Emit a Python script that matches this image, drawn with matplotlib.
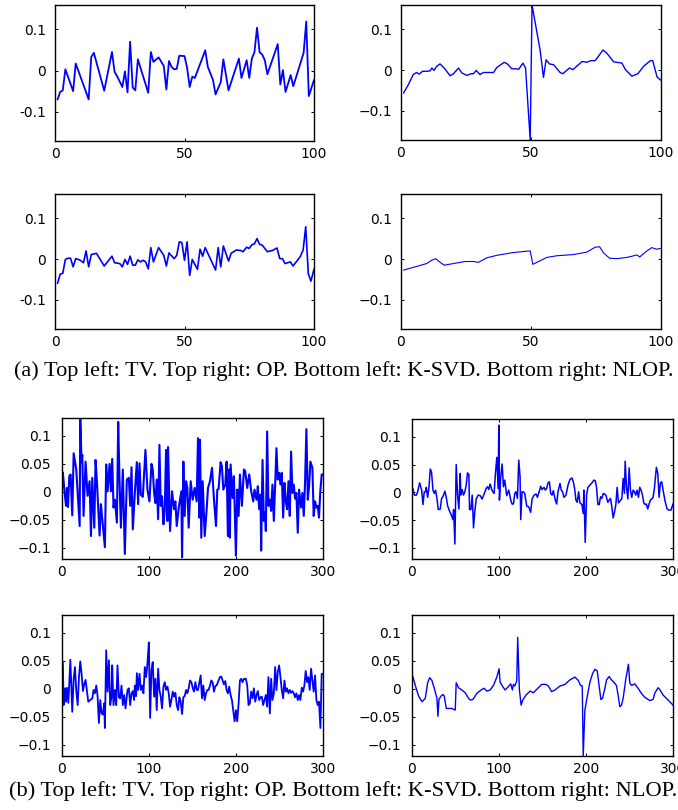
import matplotlib
matplotlib.use("Agg")
import matplotlib.pyplot as plt

# ---- (a) 100-sample signals: TV, OP, K-SVD, NLOP ----
tv_a_x = [1, 2, 3, 4, 7, 8, 13, 14, 15, 19, 22, 23, 24, 26, 27, 28, 29, 30, 31, 32,
          36, 37, 38, 40, 42, 43, 44, 45, 46, 47, 48, 50, 51, 52, 53, 54, 58, 59, 61, 62,
          64, 65, 67, 71, 72, 74, 75, 76, 77, 78, 79, 80, 81, 82, 86, 87, 88, 89, 91, 92,
          96, 97, 98, 100]
tv_a_y = [-0.070, -0.052, -0.048, 0.003, -0.050, 0.017, -0.070, 0.033, 0.043, -0.049,
          0.045, -0.003, -0.014, -0.040, -0.002, -0.053, 0.070, -0.041, -0.048, 0.027,
          -0.054, 0.045, 0.021, 0.032, 0.011, -0.046, 0.023, 0.009, 0.003, 0.004,
          0.036, 0.035, 0.007, -0.040, -0.015, -0.018, 0.049, 0.009, -0.023, -0.058,
          -0.028, 0.027, -0.048, 0.029, -0.018, 0.025, -0.018, 0.029, 0.044, 0.104,
          0.044, 0.039, 0.025, -0.009, 0.064, -0.034, 0.001, -0.052, -0.011, -0.038,
          0.043, 0.119, -0.062, -0.023]

op_a_x = [1, 2.8, 4.7, 6, 7, 8.3, 10.1, 11.2, 11.9, 12.7, 13.7, 15, 16.6, 18.9, 20.2,
          22.1, 23.4, 25.3, 27, 27.9, 28.9, 30.4, 31.7, 35.6, 36.8, 39.7, 40.9, 42.6,
          44.3, 45.3, 46.9, 47.9, 49.7, 50.4, 53.5, 54.8, 55.8, 57.1, 58.7, 61.2, 62.3,
          63.5, 64.8, 66.1, 67.9, 69.7, 71.5, 73, 74.7, 77.7, 79.2, 81.8, 85, 86.3, 88.8,
          91.1, 93.3, 95.9, 96.8, 98.5, 100]
op_a_y = [-0.056, -0.036, -0.011, -0.006, -0.010, -0.003, -0.003, -0.002, 0.005, -0.001,
          0.009, 0.015, 0.005, -0.014, -0.009, 0.005, -0.007, -0.013, -0.009, -0.009,
          -0.001, -0.011, -0.006, -0.006, 0.006, 0.019, 0.015, 0.003, 0.003, 0.002,
          0.017, 0.005, -0.171, 0.159, 0.049, -0.018, 0.025, 0.015, 0.013, -0.006,
          -0.009, -0.002, 0.005, 0.001, 0.011, 0.021, 0.019, 0.023, 0.023, 0.049,
          0.041, 0.020, 0.017, 0.001, -0.015, -0.009, 0.009, 0.023, 0.023, -0.017,
          -0.025]

ksvd_a_x = [1, 2, 3, 4, 5, 6, 7, 8, 9, 10, 11, 12, 13, 14, 16, 19, 22, 23, 25, 26,
            27, 28, 29, 30, 31, 32, 33, 34, 35, 36, 37, 38, 40, 42, 43, 44, 46, 47, 48, 49,
            50, 51, 52, 53, 55, 56, 57, 58, 62, 63, 64, 65, 67, 68, 70, 71.6, 72.6, 74, 75,
            76, 77, 78, 79, 80, 82, 84, 85.7, 86.8, 87.8, 88.8, 90.9, 91.9, 94.7, 95.8,
            96.8, 97.8, 98.8, 100]
ksvd_a_y = [-0.059, -0.037, -0.035, -0.001, 0.002, 0.002, -0.019, 0.001, -0.001, -0.004,
            -0.009, 0.020, -0.019, 0.011, 0.014, -0.017, 0.007, -0.009, -0.011, -0.019,
            -0.001, -0.013, 0.007, -0.015, -0.015, -0.002, -0.007, -0.003, -0.007, -0.024,
            0.028, -0.007, 0.028, 0.009, -0.017, 0.015, 0.001, 0.009, 0.042, 0.040,
            -0.003, 0.042, -0.040, -0.001, -0.025, 0.024, 0.007, 0.028, -0.027, 0.028,
            -0.019, 0.032, -0.005, 0.014, 0.022, 0.021, 0.018, 0.029, 0.026, 0.035,
            0.037, 0.050, 0.036, 0.034, 0.018, 0.021, 0.027, 0.001, 0.001, -0.011,
            -0.007, -0.017, 0.006, 0.022, 0.079, -0.036, -0.054, -0.025]

nlop_a_x = [1, 9.9, 11.8, 13.4, 14.6, 16.6, 20.2, 24.6, 27.9, 29.8, 33, 36.8, 43.3, 49.7,
            50.7, 56.1, 59.9, 66.4, 71.5, 74.7, 76.4, 77.9, 80.2, 83.1, 86.9, 90.8, 91.8,
            94.6, 96.5, 98.2, 100]
nlop_a_y = [-0.027, -0.011, -0.003, 0.001, -0.006, -0.015, -0.011, -0.006, -0.006, -0.008,
            0.003, 0.009, 0.016, 0.020, -0.013, 0.004, 0.008, 0.011, 0.017, 0.029,
            0.030, 0.015, 0.002, 0.001, 0.004, 0.010, 0.005, 0.020, 0.028, 0.024, 0.026]

# ---- (b) 300-sample signals: TV, OP, K-SVD, NLOP ----
tv_b_x = [1, 2.7, 4.6, 5.7, 6.9, 8.4, 9.9, 11.8, 13.4, 16.4, 20.3, 21, 22.5, 23.3, 24.8,
          27.1, 29.4, 31.7, 33.3, 34.8, 37.1, 38.6, 40.1, 43.2, 44.7, 49.3, 50.8, 52.4,
          54.7, 56.2, 57.7, 59.2, 60.8, 63.1, 64.6, 66.1, 67.7, 69.9, 72.2, 74.5, 76.8,
          78.4, 79.9, 81.4, 83.7, 86, 87.5, 89.1, 90.6, 92.9, 95.9, 98.2, 100.5, 102.8,
          104.3, 105.9, 107.4, 108.9, 110.5, 112, 113.5, 115, 116.6, 118.1, 119.6, 121.2,
          121.9, 124.2, 126.5, 128.8, 130.3, 131.9, 134.2, 137.2, 138, 139.5, 141, 142.6,
          144.1, 145.6, 147.9, 150.2, 152.5, 154.8, 156.3, 157.9, 158.6, 160.1, 161.7,
          164, 166.3, 167.8, 170.1, 172.4, 174.7, 177, 178.5, 180, 182.3, 183.8, 185.4,
          187.7, 189.2, 190.7, 192.2, 193, 193.8, 196.1, 197.6, 199.9, 201.4, 203, 204.5,
          206.8, 209.1, 210.6, 212.9, 215.2, 217.5, 219.8, 221.3, 223.6, 225.1, 226.6,
          228.2, 228.9, 230.5, 232, 233.5, 234.3, 235.8, 237.3, 238.9, 240.4, 241.9,
          243.5, 245, 246.5, 248, 249.6, 251.1, 252.6, 254.2, 255.7, 257.2, 258.7, 260.3,
          261.8, 263.3, 264.9, 266.4, 267.9, 269.4, 271, 272.5, 274.8, 276.3, 277.9,
          279.4, 280.9, 282.5, 284, 285.5, 287.8, 289.3, 290.9, 292.4, 293.9, 295.4,
          296.9, 298.5, 300]
tv_b_y = [0.034, 0.004, -0.025, 0.007, -0.027, 0.028, 0.031, -0.042, 0.069, 0.040,
          -0.061, 0.130, 0.053, 0.066, -0.043, 0.054, -0.007, 0.019, -0.079, 0.025,
          -0.064, 0.057, 0.019, -0.078, -0.022, -0.099, 0.049, 0.001, 0.050, 0.001,
          0.059, -0.028, -0.014, -0.055, 0.125, 0.022, -0.064, 0.040, -0.111, 0.022,
          0.025, -0.025, 0.044, -0.067, -0.002, 0.053, -0.022, 0.051, -0.005, -0.009,
          0.075, 0.004, -0.017, 0.050, 0.040, -0.002, -0.020, 0.022, -0.049, 0.084,
          -0.025, -0.008, -0.058, -0.034, 0.075, -0.052, 0.080, -0.070, 0.001, -0.031,
          -0.017, -0.061, -0.028, 0.001, -0.117, 0.054, -0.043, 0.019, 0.007, -0.064,
          0.019, -0.014, 0.007, -0.017, 0.096, -0.046, 0.093, -0.082, 0.019, -0.079,
          -0.031, 0.007, 0.019, 0.043, -0.014, -0.061, 0.004, 0.005, 0.053, 0.046,
          0.004, 0.013, 0.054, -0.079, 0.040, -0.082, 0.049, -0.011, 0.028, -0.114,
          0.004, -0.043, 0.031, -0.025, 0.040, 0.037, 0.007, 0.031, 0.001, -0.017,
          0.004, -0.014, 0.010, -0.031, -0.005, -0.105, 0.057, -0.052, -0.037, -0.070,
          0.108, -0.025, -0.014, -0.034, 0.013, -0.052, 0.011, 0.078, 0.022, 0.034,
          0.013, 0.034, -0.046, 0.016, -0.017, -0.031, 0.019, -0.043, 0.072, -0.002,
          0.013, -0.012, -0.002, -0.073, 0.004, -0.028, -0.002, -0.043, 0.019, 0.112,
          -0.014, 0.010, 0.054, 0.043, -0.043, -0.017, -0.028, -0.025, -0.046, 0.001,
          0.031, 0.031]

op_b_x = [1, 2.7, 5, 6.5, 8.8, 11.1, 12.6, 14.1, 15.7, 16.4, 18, 19.5, 21, 22.5, 24.1,
          25.6, 27.1, 28.7, 30.2, 32.5, 34, 35.5, 37.8, 39.4, 40.9, 43.2, 45.5, 47, 47.8,
          49.3, 50.8, 52.4, 53.9, 55.4, 56.2, 57.7, 59.2, 60.8, 62.3, 63.8, 65.4, 66.1,
          67.7, 69.2, 70.7, 72.2, 73.8, 76.1, 78.4, 80.6, 82.9, 85.2, 86.8, 88.3, 89.8,
          92.1, 94.4, 95.9, 97.5, 99, 99.8, 100.5, 102, 103.6, 105.1, 106.6, 108.9, 111.2,
          113.5, 115, 116.6, 118.1, 119.6, 121.2, 122.7, 124.2, 125, 126.5, 128, 129.6,
          131.9, 134.2, 136.4, 138, 140.3, 142.6, 144.1, 145.6, 147.9, 149.4, 151.7,
          153.3, 154.8, 156.3, 157.9, 159.4, 160.9, 162.4, 164.7, 166.3, 167.8, 170.1,
          171.6, 173.1, 174.7, 177, 179.3, 181.5, 183.8, 185.4, 186.9, 188.4, 189.9,
          191.5, 193, 195.3, 196.8, 197.6, 199.1, 200.7, 202.2, 204.5, 206.8, 209.1,
          210.6, 212.1, 213.7, 215.2, 216.7, 218.2, 219.8, 221.3, 222.8, 225.1, 226.6,
          228.2, 229.7, 231.2, 232.7, 234.3, 235.8, 237.3, 238.9, 241.2, 242.7, 244.2,
          245, 246.5, 248.1, 249.6, 251.1, 252.6, 254.2, 255.7, 257.2, 258.7, 260.3,
          261.8, 263.3, 264.9, 266.4, 267.9, 269.4, 271, 272.5, 274, 275.6, 277.1, 278.6,
          280.9, 282.5, 284, 285.5, 287, 288.6, 290.9, 293.2, 295.5, 297.7, 300]
op_b_y = [0.007, -0.005, -0.005, 0.001, 0.017, 0.004, -0.022, 0.001, 0.001, 0.009,
          -0.009, 0.009, 0.042, 0.036, 0.004, -0.002, 0.004, -0.011, -0.031, -0.030,
          -0.011, -0.008, 0.002, -0.009, -0.024, -0.034, -0.042, -0.049, -0.031, -0.093,
          0.050, -0.005, -0.030, 0.034, -0.005, 0.005, -0.005, 0.001, 0.013, 0.035,
          0.032, -0.031, -0.031, -0.005, -0.064, -0.034, -0.012, -0.005, -0.006, -0.012,
          -0.003, 0.007, 0.010, 0.005, 0.015, 0.003, -0.002, 0.034, 0.063, 0.007,
          0.121, -0.014, 0.028, 0.051, 0.010, 0.022, -0.006, 0.004, -0.014, -0.021,
          -0.021, -0.002, 0.001, -0.011, 0.058, 0.028, -0.049, 0.001, 0.001, -0.002,
          -0.025, -0.026, -0.036, -0.012, -0.005, -0.003, -0.009, -0.002, 0.011, 0.005,
          0.009, 0.004, 0.007, 0.017, 0.019, -0.002, -0.005, 0.003, -0.014, -0.021,
          0.001, 0.016, 0.004, 0.001, -0.009, -0.005, 0.013, 0.023, 0.026, 0.019,
          0.007, -0.014, -0.018, 0.001, -0.019, -0.022, -0.038, 0.004, -0.090, -0.005,
          0.009, 0.013, 0.017, 0.022, 0.021, 0.009, -0.022, -0.022, -0.008, -0.011,
          -0.002, -0.003, -0.005, -0.018, -0.014, -0.011, -0.026, -0.046, -0.036, -0.022,
          0.009, -0.019, -0.016, -0.011, 0.025, -0.002, 0.056, 0.011, -0.012, 0.044,
          0.004, -0.009, 0.004, 0.001, -0.005, 0.004, -0.009, 0.009, 0.004, -0.005,
          -0.019, -0.022, -0.021, -0.030, -0.021, -0.014, -0.012, -0.009, 0.007, 0.045,
          0.034, -0.009, 0.017, 0.019, 0.004, -0.016, -0.030, -0.032, -0.032, -0.021]

ksvd_b_x = [1, 1.9, 3.4, 4.6, 5.7, 7.3, 8.8, 9.6, 11.1, 11.8, 13.4, 14.9, 16.4, 18, 19.5,
            21, 22.5, 24.1, 25.6, 27.1, 28.7, 30.2, 32.5, 34.8, 36.3, 37.8, 39.4, 40.9,
            42.4, 44, 45.5, 47, 48.5, 49.3, 50.8, 52.4, 53.9, 55.4, 57, 57.7, 59.2, 60.8,
            62.3, 63.8, 65.4, 66.9, 68.4, 69.9, 71.5, 73, 75.3, 76.8, 78.4, 79.9, 81.4,
            82.9, 83.7, 85.2, 86, 87.5, 89.1, 90.6, 92.1, 93.6, 95.2, 96.7, 98.2, 99.8,
            101.3, 102.8, 104.3, 105.9, 107.4, 108.9, 110.5, 112, 113.5, 115, 116.6, 118.1,
            119.6, 121.2, 122.7, 124.2, 125.7, 127.3, 128.8, 130.3, 131.9, 133.4, 134.9,
            136.4, 138, 139.5, 141, 142.6, 144.1, 145.6, 147.1, 148.7, 150.2, 151.7, 153.3,
            154.8, 156.3, 157.9, 159.4, 160.9, 162.4, 164, 165.5, 167, 168.5, 170.1, 171.6,
            173.1, 174.7, 176.2, 177.7, 180, 181.5, 183.1, 184.6, 186.1, 187.7, 189.2,
            190.7, 192.2, 193.8, 195.3, 196.8, 198.4, 199.9, 201.4, 203, 204.5, 206, 207.5,
            209.1, 211.4, 212.9, 214.4, 215.9, 217.5, 219, 220.5, 222.1, 223.6, 225.1,
            226.6, 228.2, 229.7, 231.2, 232.7, 234.3, 235.8, 237.3, 238.9, 240.4, 241.9,
            243.5, 245, 246.5, 248, 249.6, 251.1, 252.6, 254.2, 255.7, 257.2, 258.7, 260.3,
            261.8, 263.3, 264.9, 266.4, 267.9, 269.4, 271, 272.5, 274, 275.6, 277.1, 278.6,
            280.1, 281.7, 283.2, 284.7, 286.3, 287.8, 289.3, 290.9, 292.4, 293.9, 295.4,
            297, 298.5, 300]
ksvd_b_y = [0.046, -0.029, 0.001, -0.023, 0.002, -0.025, 0.024, 0.052, -0.011, -0.041,
            0.018, 0.039, -0.004, -0.029, 0.021, 0.049, 0.027, -0.004, 0.009, 0.016,
            -0.005, -0.023, -0.020, -0.017, -0.002, -0.008, 0.006, -0.013, -0.061, -0.020,
            -0.044, -0.046, -0.026, -0.070, 0.069, -0.005, 0.051, -0.029, -0.013, 0.042,
            -0.029, -0.002, -0.029, 0.042, -0.015, -0.017, 0.006, -0.029, -0.011, -0.035,
            -0.002, 0.001, -0.029, -0.008, -0.004, -0.020, 0.006, -0.013, 0.028, -0.002,
            0.027, -0.002, 0.006, -0.008, 0.039, 0.021, 0.045, 0.083, -0.052, 0.033,
            0.048, -0.014, 0.018, -0.038, 0.036, -0.002, -0.014, -0.035, 0.004, 0.012,
            -0.002, 0.004, -0.008, -0.032, -0.020, -0.005, -0.014, -0.007, -0.029, -0.038,
            -0.015, -0.023, -0.045, -0.015, -0.013, -0.002, -0.008, 0.001, 0.015, 0.012,
            0.002, -0.005, 0.012, -0.002, -0.002, 0.012, 0.024, -0.017, 0.006, -0.020,
            -0.008, -0.002, -0.002, 0.006, 0.015, 0.012, -0.005, 0.005, 0.006, 0.015,
            0.021, 0.022, 0.015, 0.008, 0.014, -0.002, -0.008, 0.004, -0.011, -0.020,
            -0.038, -0.058, -0.038, -0.058, -0.026, 0.015, 0.018, 0.012, 0.018, 0.018,
            0.006, -0.029, -0.026, -0.005, -0.017, 0.001, -0.023, -0.011, -0.004, -0.020,
            -0.015, -0.014, -0.029, -0.020, -0.011, -0.032, 0.021, -0.044, 0.018, -0.020,
            -0.008, 0.039, -0.002, 0.030, 0.042, 0.021, -0.002, -0.017, 0.015, -0.005,
            0.001, -0.008, -0.002, -0.007, -0.004, -0.008, -0.015, -0.008, -0.020, -0.011,
            -0.020, 0.002, -0.005, 0.006, 0.032, 0.012, 0.021, -0.002, 0.036, 0.015,
            -0.005, 0.024, -0.020, -0.029, -0.023, -0.070, 0.027, 0.027]

nlop_b_x = [1, 3.8, 7.6, 11.5, 15.3, 18, 20.3, 22.9, 25.6, 28.7, 29.8, 31, 33.3, 35.5,
            37.1, 39.4, 42, 45.9, 49.7, 50.8, 53.5, 57.3, 61.2, 65, 66.9, 70, 74.5, 80.3,
            82.9, 86, 89.8, 93.6, 97.5, 100.1, 101.3, 104.3, 107, 110.8, 113.5, 115.4,
            116.6, 118.1, 120.4, 121.5, 123.4, 125.4, 127.3, 131.1, 135.7, 139.5, 143.3,
            149.1, 154, 156.7, 160.5, 164.3, 170.1, 175.8, 181.5, 187.3, 191.1, 193.8,
            195.7, 196.8, 198.7, 201.4, 204.5, 207.5, 210.2, 212.9, 215.2, 217.1, 219,
            221.7, 223.6, 226.6, 229.3, 232, 235, 236.9, 238.9, 240.8, 242.7, 245.8, 248.8,
            250.3, 252.3, 256.1, 259.9, 263.7, 267.5, 273.3, 277.1, 279, 282.8, 284.7,
            288.6, 294.4, 300]
nlop_b_y = [0.022, 0.006, -0.013, -0.023, -0.017, 0.011, 0.020, 0.015, 0.001, -0.017,
            -0.049, -0.019, -0.013, -0.010, -0.013, -0.035, -0.035, -0.035, -0.038, 0.011,
            0.002, -0.002, -0.007, -0.017, -0.020, -0.019, -0.008, -0.001, 0.001, -0.004,
            -0.002, 0.006, 0.021, 0.036, 0.012, 0.004, -0.002, 0.004, 0.009, -0.002,
            0.008, 0.005, 0.014, 0.092, -0.001, -0.029, -0.020, -0.011, -0.004, -0.007,
            -0.001, 0.008, 0.008, 0.005, -0.005, -0.002, 0.005, 0.008, 0.016, 0.021,
            0.015, 0.006, 0.005, -0.120, -0.038, -0.014, 0.012, 0.027, 0.035, 0.032,
            0.004, -0.019, -0.017, 0.001, 0.016, 0.022, 0.016, 0.012, 0.006, -0.011,
            -0.032, -0.029, -0.017, 0.018, 0.044, 0.011, 0.006, 0.009, 0.001, -0.008,
            -0.015, -0.021, -0.019, -0.008, 0.002, -0.001, -0.011, -0.020, -0.029]

ylim_a = (-0.171, 0.159)
ylim_b = (-0.12, 0.132)
yticks_a = [-0.1, 0, 0.1]
yticks_b = [-0.1, -0.05, 0, 0.05, 0.1]
xticks_a = [0, 50, 100]
xticks_b = [0, 100, 200, 300]
caption_a = "(a) Top left: TV. Top right: OP. Bottom left: K-SVD. Bottom right: NLOP."
caption_b = "(b) Top left: TV. Top right: OP. Bottom left: K-SVD. Bottom right: NLOP."

W, H = 678, 810
fig = plt.figure(figsize=(W / 100, H / 100), dpi=100)


def px_axes(left, top, right, bottom):
    return fig.add_axes([left / W, 1 - bottom / H, (right - left) / W, (bottom - top) / H])


def ytick_text(v, minus):
    if v == 0:
        return "0"
    s = f"{abs(v):g}"
    return (minus + s) if v < 0 else s


def style(ax, xlim, ylim, xticks, yticks, minus, ypad=6.5):
    ax.set_xlim(*xlim)
    ax.set_ylim(*ylim)
    ax.set_xticks(xticks)
    ax.set_xticklabels([str(t) for t in xticks])
    ax.set_yticks(yticks)
    ax.set_yticklabels([ytick_text(v, minus) for v in yticks])
    ax.tick_params(direction="in", length=2.5, width=0.7, top=True, right=True,
                   labelsize=10, colors="black")
    ax.tick_params(axis="y", pad=ypad)
    ax.tick_params(axis="x", pad=4)
    for sp in ax.spines.values():
        sp.set_linewidth(1.0)
    for lab in ax.get_xticklabels() + ax.get_yticklabels():
        lab.set_family("DejaVu Sans")


BLUE = "#0000ff"

# panel set (a)
ax = px_axes(55, 5, 314, 141)
ax.plot(tv_a_x, tv_a_y, color=BLUE, lw=1.3)
style(ax, (0, 100), ylim_a, xticks_a, yticks_a, "-")

ax = px_axes(401, 5, 661, 140)
ax.plot(op_a_x, op_a_y, color=BLUE, lw=1.0)
style(ax, (0, 100), ylim_a, xticks_a, yticks_a, "\u2212")

ax = px_axes(55, 194, 314, 329)
ax.plot(ksvd_a_x, ksvd_a_y, color=BLUE, lw=1.2)
style(ax, (0, 100), ylim_a, xticks_a, yticks_a, "-")

ax = px_axes(401, 194, 661, 329)
ax.plot(nlop_a_x, nlop_a_y, color=BLUE, lw=0.8)
style(ax, (0, 100), ylim_a, xticks_a, yticks_a, "\u2212")

fig.text(14 / W, 1 - 371 / H, caption_a, family="Liberation Serif", fontsize=16,
         ha="left", va="center")

# panel set (b)
ax = px_axes(62, 418, 323, 559)
ax.plot(tv_b_x, tv_b_y, color=BLUE, lw=1.5)
style(ax, (0, 300), ylim_b, xticks_b, yticks_b, "\u2212", ypad=8)

ax = px_axes(412, 419, 673, 559)
ax.plot(op_b_x, op_b_y, color=BLUE, lw=1.1)
style(ax, (0, 300), ylim_b, xticks_b, yticks_b, "\u2212", ypad=8)

ax = px_axes(62, 615, 323, 756)
ax.plot(ksvd_b_x, ksvd_b_y, color=BLUE, lw=1.3)
style(ax, (0, 300), ylim_b, xticks_b, yticks_b, "\u2212", ypad=8)

ax = px_axes(412, 615, 673, 756)
ax.plot(nlop_b_x, nlop_b_y, color=BLUE, lw=1.0)
style(ax, (0, 300), ylim_b, xticks_b, yticks_b, "\u2212", ypad=8)

fig.text(9 / W, 1 - 791 / H, caption_b, family="Liberation Serif", fontsize=16.2,
         ha="left", va="center")

fig.savefig("out.png", dpi=100)
